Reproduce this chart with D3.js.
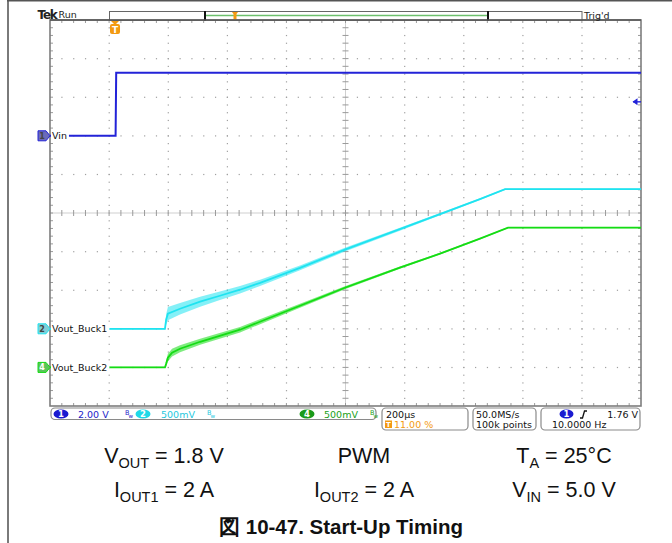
<!DOCTYPE html>
<html><head><meta charset="utf-8">
<script src="https://cdn.jsdelivr.net/npm/d3@7"></script>
<style>
body{margin:0;background:#fff;}
svg{display:block;}
</style></head><body>
<svg id="chart" width="672" height="543"></svg>
<script>
// ---------------- data ----------------
const timeDomain = [-220, 1780];            // µs (200 µs/div, trigger at 11 %)
const vinTime   = [-220, 2, 4, 1780];
const vinVolts  = [0, 0, 3.27, 3.27];
const buck1Time  = [-220, 169, 173, 179, 220, 288, 355, 423, 491, 626, 778, 964, 1100, 1235, 1320, 1780];
const buck1Volts = [0, 0, 0.118, 0.196, 0.26, 0.351, 0.428, 0.506, 0.596, 0.79, 1.025, 1.29, 1.485, 1.68, 1.808, 1.808];
const buck1Noise = [0.008, 0.008, 0.07, 0.085, 0.075, 0.065, 0.055, 0.048, 0.04, 0.03, 0.025, 0.02, 0.015, 0.012, 0.01, 0.01];
const buck2Time  = [-220, 169, 173, 179, 193, 220, 288, 423, 626, 778, 964, 1100, 1235, 1330, 1780];
const buck2Volts = [0, 0, 0.048, 0.126, 0.191, 0.242, 0.332, 0.488, 0.799, 1.032, 1.292, 1.473, 1.667, 1.81, 1.81];
const buck2Noise = [0.008, 0.008, 0.04, 0.05, 0.05, 0.045, 0.04, 0.035, 0.025, 0.02, 0.015, 0.012, 0.01, 0.008, 0.008];

const channelNames   = ["Vin", "Vout_Buck1", "Vout_Buck2"];
const channelNumbers = ["1", "2", "4"];
const channelVPerDiv = [2.0, 0.5, 0.5];
const channelOffsetDiv = [2, -3, -4];
const channelScaleLabels = ["2.00 V", "500mV", "500mV"];
const triggerLevel = 1.76;
const horizLabels = ["200µs", "11.00 %", "50.0MS/s", "100k points", "1.76 V", "10.0000 Hz"];
const captionRow1 = [["V", "OUT", " = 1.8 V"], ["PWM", "", ""], ["T", "A", " = 25°C"]];
const captionRow2 = [["I", "OUT1", " = 2 A"], ["I", "OUT2", " = 2 A"], ["V", "IN", " = 5.0 V"]];
const figureTitle = "図 10-47. Start-Up Timing";

// ---------------- layout ----------------
const svg = d3.select("#chart");
const X0 = 50, X1 = 641, Y0 = 20, Y1 = 406;
const colors = ["#2323d8", "#1fe3f0", "#14dc14"];
const markerFill = ["#6b6bb8", "#7fcfd6", "#5cc45c"];
const scopeFont = "'DejaVu Sans', sans-serif";

const gx = d3.scaleLinear().domain([0, 10]).range([X0, X1]);
const gy = d3.scaleLinear().domain([-5, 5]).range([Y1, Y0]);
const xt = d3.scaleLinear().domain(timeDomain).range([X0, X1]);
const yFor = ch => v => gy(channelOffsetDiv[ch] + v / channelVPerDiv[ch]);

// page frame
svg.append("line").attr("x1", 8).attr("x2", 8).attr("y1", 0).attr("y2", 543).attr("stroke", "#7a7a7a").attr("stroke-width", 2);
svg.append("line").attr("x1", 7).attr("x2", 672).attr("y1", 0.8).attr("y2", 0.8).attr("stroke", "#555").attr("stroke-width", 1.6);

// grid dots
const gGrid = svg.append("g");
const dotCol = "#a0a0a0";
for (let i = 1; i < 10; i++) {
  if (i === 5) continue;
  for (let k = 1; k < 50; k++) {
    gGrid.append("rect").attr("x", gx(k / 5) - 0.5).attr("y", gy(i - 5) - 0.5).attr("width", 1.2).attr("height", 1.2).attr("fill", dotCol);
    gGrid.append("rect").attr("x", gx(i) - 0.5).attr("y", gy(k / 5 - 5) - 0.5).attr("width", 1.2).attr("height", 1.2).attr("fill", dotCol);
  }
}
// center lines
gGrid.append("line").attr("x1", X0).attr("x2", X1).attr("y1", gy(0)).attr("y2", gy(0)).attr("stroke", "#cfcfcf").attr("stroke-width", 1);
gGrid.append("line").attr("x1", gx(5)).attr("x2", gx(5)).attr("y1", Y0).attr("y2", Y1).attr("stroke", "#cfcfcf").attr("stroke-width", 1);
for (let k = 1; k < 50; k++) {
  gGrid.append("line").attr("x1", gx(k / 5)).attr("x2", gx(k / 5)).attr("y1", gy(0) - 3).attr("y2", gy(0) + 3).attr("stroke", "#9a9a9a");
  gGrid.append("line").attr("y1", gy(k / 5 - 5)).attr("y2", gy(k / 5 - 5)).attr("x1", gx(5) - 3).attr("x2", gx(5) + 3).attr("stroke", "#9a9a9a");
  // border ticks
  gGrid.append("line").attr("x1", gx(k / 5)).attr("x2", gx(k / 5)).attr("y1", Y0).attr("y2", Y0 + 3).attr("stroke", "#9a9a9a");
  gGrid.append("line").attr("x1", gx(k / 5)).attr("x2", gx(k / 5)).attr("y1", Y1 - 3).attr("y2", Y1).attr("stroke", "#9a9a9a");
  gGrid.append("line").attr("y1", gy(k / 5 - 5)).attr("y2", gy(k / 5 - 5)).attr("x1", X0).attr("x2", X0 + 3).attr("stroke", "#9a9a9a");
  gGrid.append("line").attr("y1", gy(k / 5 - 5)).attr("y2", gy(k / 5 - 5)).attr("x1", X1 - 3).attr("x2", X1).attr("stroke", "#9a9a9a");
}
svg.append("rect").attr("x", X0).attr("y", Y0).attr("width", X1 - X0).attr("height", Y1 - Y0)
  .attr("fill", "none").attr("stroke", "#7d7d7d").attr("stroke-width", 1.6);

// traces
svg.append("clipPath").attr("id", "plotclip").append("rect").attr("x", X0).attr("y", Y0).attr("width", X1 - X0).attr("height", Y1 - Y0);
const gTr = svg.append("g").attr("clip-path", "url(#plotclip)");
function drawTrace(ch, times, volts, noise) {
  const y = yFor(ch);
  const pts = times.map((t, i) => ({t, v: volts[i], n: noise ? noise[i] : 0}));
  if (noise) {
    gTr.append("path").datum(pts)
      .attr("d", d3.area().x(d => xt(d.t)).y0(d => y(d.v - d.n)).y1(d => y(d.v + d.n)))
      .attr("fill", colors[ch]).attr("opacity", 0.55);
  }
  gTr.append("path").datum(pts)
    .attr("d", d3.line().x(d => xt(d.t)).y(d => y(d.v)))
    .attr("fill", "none").attr("stroke", colors[ch]).attr("stroke-width", ch === 0 ? 2 : 1.8);
}
drawTrace(0, vinTime, vinVolts, null);
drawTrace(1, buck1Time, buck1Volts, buck1Noise);
drawTrace(2, buck2Time, buck2Volts, buck2Noise);

// channel markers and names
channelNames.forEach((name, ch) => {
  const yy = yFor(ch)(0);
  const t = svg.append("text").attr("x", 52).attr("y", yy + 3.5).attr("font-family", scopeFont).attr("font-size", 9.5)
    .attr("fill", "#111").text(name);
  const bb = t.node().getBBox();
  svg.insert("rect", "text").attr("x", X0 + 1).attr("y", yy - 5).attr("width", bb.x + bb.width - X0 + 1).attr("height", 10).attr("fill", "#fff");
  svg.append("path").attr("d", `M${38},${yy - 5} L${46},${yy - 5} L${50},${yy} L${46},${yy + 5} L${38},${yy + 5} Z`)
    .attr("fill", markerFill[ch]).attr("stroke", colors[ch]).attr("stroke-width", 1);
  svg.append("text").attr("x", 42).attr("y", yy + 3).attr("text-anchor", "middle").attr("font-family", scopeFont)
    .attr("font-size", 8).attr("font-weight", "bold").attr("fill", ch === 2 ? "#fff" : "#444").text(channelNumbers[ch]);
});

// trigger level marker (right)
const ty = yFor(0)(triggerLevel);
svg.append("path").attr("d", `M${632.5},${ty} L${637.5},${ty - 3.5} L${637.5},${ty + 3.5} Z`).attr("fill", colors[0]);
svg.append("line").attr("x1", 633).attr("x2", 641).attr("y1", ty).attr("y2", ty).attr("stroke", colors[0]).attr("stroke-width", 1.4);

// trigger position marker (top)
const tx = xt(0);
svg.append("path").attr("d", `M${tx - 4},${21} L${tx + 4},${21} L${tx},${25} Z`).attr("fill", "#f39a12");
svg.append("rect").attr("x", tx - 5).attr("y", 24).attr("width", 10).attr("height", 10).attr("rx", 2).attr("fill", "#f39a12");
svg.append("text").attr("x", tx).attr("y", 32.5).attr("text-anchor", "middle").attr("font-family", scopeFont)
  .attr("font-size", 9).attr("font-weight", "bold").attr("fill", "#fff").text("T");

// top record bar
svg.append("rect").attr("x", 109.5).attr("y", 11.5).attr("width", 472.5).attr("height", 8.5).attr("fill", "#fff").attr("stroke", "#666").attr("stroke-width", 1);
svg.append("line").attr("x1", 206).attr("x2", 487).attr("y1", 15.5).attr("y2", 15.5).attr("stroke", "#6cc06c").attr("stroke-width", 1.5);
svg.append("line").attr("x1", 205).attr("x2", 205).attr("y1", 11).attr("y2", 20.5).attr("stroke", "#111").attr("stroke-width", 2);
svg.append("line").attr("x1", 488).attr("x2", 488).attr("y1", 11).attr("y2", 20.5).attr("stroke", "#111").attr("stroke-width", 2);
svg.append("path").attr("d", "M232,12 L238,12 L236.5,14 L236.5,19.5 L233.5,19.5 L233.5,14 Z").attr("fill", "#f39a12");
svg.append("line").attr("x1", X0).attr("x2", X1).attr("y1", Y0).attr("y2", Y0).attr("stroke", "#555").attr("stroke-width", 1.6);
svg.append("text").attr("x", 37.5).attr("y", 19).attr("font-family", scopeFont).attr("font-size", 12).attr("font-weight", "bold")
  .attr("letter-spacing", -1.2).attr("fill", "#222").text("Tek");
svg.append("text").attr("x", 58.5).attr("y", 18).attr("font-family", scopeFont).attr("font-size", 9.5).attr("fill", "#222").text("Run");
svg.append("text").attr("x", 584).attr("y", 18.5).attr("font-family", scopeFont).attr("font-size", 9.5).attr("fill", "#222").text("Trig'd");

// bottom status bar
const sb = svg.append("g").attr("font-family", scopeFont).attr("font-size", 9.5);
function box(x, y, w, h) {
  sb.append("rect").attr("x", x).attr("y", y).attr("width", w).attr("height", h).attr("rx", 4)
    .attr("fill", "#fff").attr("stroke", "#8a8a8a").attr("stroke-width", 1.2);
}
box(51, 408, 325, 11.5);
const chBadgeX = [61, 143, 307];
const chTextX = [78, 161, 324];
const bwX = [125, 207, 370];
const badgeFill = ["#1a1ad0", "#1fd8e8", "#1a9a1a"];
const textFill = ["#2323c8", "#1fc8de", "#18a018"];
channelNumbers.forEach((n, ch) => {
  sb.append("ellipse").attr("cx", chBadgeX[ch]).attr("cy", 414).attr("rx", 7.5).attr("ry", 4.6).attr("fill", badgeFill[ch]);
  sb.append("text").attr("x", chBadgeX[ch]).attr("y", 417.3).attr("text-anchor", "middle").attr("font-size", 8.5).attr("font-weight", "bold").attr("fill", "#fff").text(n);
  sb.append("text").attr("x", chTextX[ch]).attr("y", 417.5).attr("fill", textFill[ch]).text(channelScaleLabels[ch]);
  sb.append("text").attr("x", bwX[ch]).attr("y", 415).attr("font-size", 6.5).attr("fill", textFill[ch]).text("B");
  sb.append("text").attr("x", bwX[ch] + 3.5).attr("y", 418).attr("font-size", 5.5).attr("fill", textFill[ch]).text("w");
});
box(382, 408, 86, 22);
sb.append("text").attr("x", 386).attr("y", 417.5).attr("fill", "#111").text(horizLabels[0]);
sb.append("rect").attr("x", 385).attr("y", 420.5).attr("width", 7).attr("height", 7.5).attr("fill", "#f39a12");
sb.append("text").attr("x", 388.5).attr("y", 427.2).attr("text-anchor", "middle").attr("font-size", 7).attr("font-weight", "bold").attr("fill", "#fff").text("T");
sb.append("text").attr("x", 394).attr("y", 428.3).attr("fill", "#f39a12").text(horizLabels[1]);
box(473, 408, 63, 22);
sb.append("text").attr("x", 476).attr("y", 417.5).attr("fill", "#111").text(horizLabels[2]);
sb.append("text").attr("x", 476).attr("y", 428.3).attr("fill", "#111").text(horizLabels[3]);
box(541, 408, 99, 22);
sb.append("ellipse").attr("cx", 566.5).attr("cy", 414).attr("rx", 7).attr("ry", 4.6).attr("fill", badgeFill[0]);
sb.append("text").attr("x", 566.5).attr("y", 417.3).attr("text-anchor", "middle").attr("font-size", 8.5).attr("font-weight", "bold").attr("fill", "#fff").text("1");
sb.append("path").attr("d", "M580,418 L582.5,418 L584.5,411 L587,411").attr("fill", "none").attr("stroke", "#111").attr("stroke-width", 1.3);
sb.append("text").attr("x", 638).attr("y", 417.5).attr("text-anchor", "end").attr("fill", "#111").text(horizLabels[4]);
sb.append("text").attr("x", 552).attr("y", 428.3).attr("fill", "#111").text(horizLabels[5]);

// captions below
const capFont = "'Liberation Sans', Arial, sans-serif";
const colX = [164, 364, 564];
function captionRow(row, y) {
  row.forEach((parts, i) => {
    const t = svg.append("text").attr("x", colX[i]).attr("y", y).attr("text-anchor", "middle")
      .attr("font-family", capFont).attr("font-size", 21.5).attr("fill", "#111");
    t.append("tspan").text(parts[0]);
    if (parts[1]) t.append("tspan").attr("font-size", 14.5).attr("dy", 4.5).text(parts[1]);
    if (parts[2]) t.append("tspan").attr("dy", parts[1] ? -4.5 : 0).text(parts[2]);
  });
}
captionRow(captionRow1, 463);
captionRow(captionRow2, 497);
svg.append("text").attr("x", 341).attr("y", 534).attr("text-anchor", "middle").attr("font-family", capFont)
  .attr("font-size", 20.5).attr("font-weight", "bold").attr("fill", "#111").text(figureTitle);
</script>
</body></html>
